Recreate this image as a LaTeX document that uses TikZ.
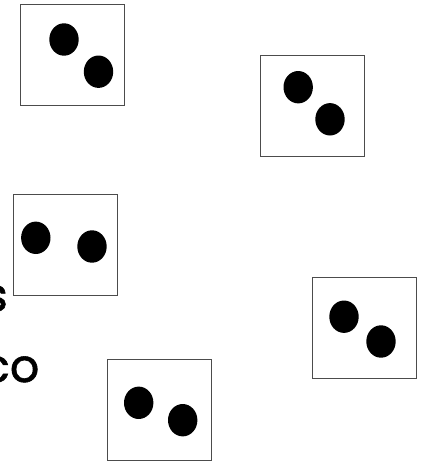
\documentclass[tikz,border=0pt]{standalone}
\usepackage{fontspec}
\newfontfamily\cardfont[FakeBold=1.2]{Poppins}
\usetikzlibrary{shapes.geometric}

\tikzset{
    card/.style={draw=black!70, line width=0.9pt, fill=white, minimum width=104pt, minimum height=101pt, inner sep=0pt},
    pip/.style={ellipse, fill=black, minimum width=29.4pt, minimum height=32.4pt, inner sep=0pt},
    cut/.style={font=\cardfont\fontsize{46}{50}\selectfont, inner sep=0pt, anchor=base east}
}

\begin{document}
\begin{tikzpicture}[x=1pt, y=-1pt]
    \useasboundingbox (0,0) rectangle (423,461);
    \clip (0,0) rectangle (423,461);

    % Cut-off words at the left edge
    \node[cut] (wordA) at (8,311) {s};
    \node[cut] (wordB) at (39.5,382) {co};

    % Cards
    \node[card] (card1) at (72.7,55.4) {};
    \node[card] (card2) at (312.2,105.8) {};
    \node[card] (card3) at (65.5,244.8) {};
    \node[card] (card4) at (364.3,327.5) {};
    \node[card] (card5) at (159.3,409.8) {};

    % Two pips on each card
    \node[pip] (pip1a) at (64,39.5) {};
    \node[pip] (pip1b) at (98.5,71.7) {};
    \node[pip] (pip2a) at (298.2,87.2) {};
    \node[pip] (pip2b) at (330,119.3) {};
    \node[pip] (pip3a) at (35.8,237.8) {};
    \node[pip] (pip3b) at (92,246.5) {};
    \node[pip] (pip4a) at (344,316.7) {};
    \node[pip] (pip4b) at (381,341.5) {};
    \node[pip] (pip5a) at (138.7,402.8) {};
    \node[pip] (pip5b) at (182.7,420.2) {};
\end{tikzpicture}
\end{document}
